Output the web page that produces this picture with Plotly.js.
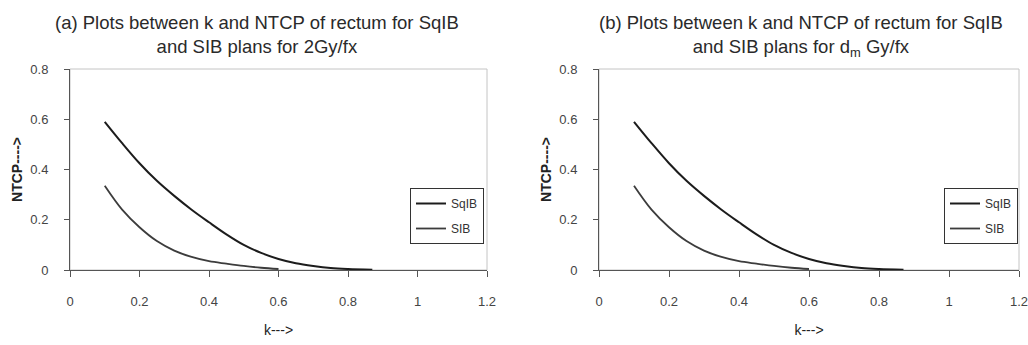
<!DOCTYPE html>
<html>
<head>
<meta charset="utf-8">
<script src="https://cdn.plot.ly/plotly-3.0.1.min.js"></script>
<style>html,body{margin:0;padding:0;background:#fff;}#chart{width:1028px;height:345px;}</style>
</head>
<body>
<div id="chart"></div>
<script>
// k values and NTCP values (both panels show the same curves)
const kSqIB = [0.1, 0.15, 0.2, 0.25, 0.3, 0.35, 0.4, 0.45, 0.5, 0.55, 0.6, 0.65, 0.7, 0.75, 0.8, 0.87];
const ntcpSqIB = [0.59, 0.505, 0.425, 0.355, 0.295, 0.24, 0.19, 0.142, 0.10, 0.068, 0.044, 0.027, 0.016, 0.008, 0.004, 0.001];
const kSIB = [0.1, 0.15, 0.2, 0.25, 0.3, 0.35, 0.4, 0.45, 0.5, 0.55, 0.6];
const ntcpSIB = [0.335, 0.24, 0.17, 0.115, 0.077, 0.052, 0.035, 0.025, 0.016, 0.009, 0.004];
const seriesNames = ['SqIB', 'SIB'];
const titles = [
  '(a) Plots between k and NTCP of rectum for SqIB<br>and SIB plans for 2Gy/fx',
  '(b) Plots between k and NTCP of rectum for SqIB<br>and SIB plans for d<sub>m</sub> Gy/fx'
];
const xTitle = 'k--->';
const yTitle = 'NTCP---->';

const W = 1028, H = 345;
const sans = '"Liberation Sans", Arial, sans-serif';
const lineColors = ['#1c1c1c', '#3c3c3c'];

const traces = [];
['', '2'].forEach((s, i) => {
  traces.push({x: kSqIB, y: ntcpSqIB, name: seriesNames[0], type: 'scatter', mode: 'lines',
    line: {color: lineColors[0], width: 2, shape: 'spline'}, xaxis: 'x' + s, yaxis: 'y' + s,
    legend: i === 0 ? 'legend' : 'legend2', legendgroup: 'a' + i});
  traces.push({x: kSIB, y: ntcpSIB, name: seriesNames[1], type: 'scatter', mode: 'lines',
    line: {color: lineColors[1], width: 1.8, shape: 'spline'}, xaxis: 'x' + s, yaxis: 'y' + s,
    legend: i === 0 ? 'legend' : 'legend2', legendgroup: 'b' + i});
});

function xax(domain, anchor) {
  return {domain: domain, anchor: anchor, range: [0, 1.2], dtick: 0.2, tick0: 0,
    showgrid: false, zeroline: false, showline: true, linecolor: '#555', linewidth: 1,
    ticks: 'outside', ticklen: 6, tickcolor: '#555', ticklabelstandoff: 13, ticklabeloverflow: 'allow',
    tickfont: {family: sans, size: 13, color: '#444'},
    title: {text: xTitle, font: {family: sans, size: 14, color: '#222'}, standoff: 17}};
}
function yax(domain, anchor) {
  return {domain: domain, anchor: anchor, range: [0, 0.8], dtick: 0.2, tick0: 0,
    showgrid: false, zeroline: false, showline: true, linecolor: '#555', linewidth: 1,
    ticks: 'outside', ticklen: 5, tickcolor: '#555', ticklabelstandoff: 13,
    tickfont: {family: sans, size: 13, color: '#444'},
    title: {text: '<b>' + yTitle + '</b>', font: {family: sans, size: 14, color: '#222'}, standoff: 4}};
}
const yDom = [1 - 270 / H, 1 - 69 / H];
function leg(xRight) {
  return {x: xRight / W, y: 1 - 188 / H, xanchor: 'right', yanchor: 'top', xref: 'paper', yref: 'paper',
    bgcolor: '#fff', bordercolor: '#333', borderwidth: 1, traceorder: 'grouped', tracegroupgap: 6,
    itemwidth: 30, font: {family: sans, size: 12, color: '#333'}};
}

const layout = {
  width: W, height: H, margin: {l: 0, r: 0, t: 0, b: 0},
  paper_bgcolor: '#fff', plot_bgcolor: '#fff', showlegend: true,
  xaxis: xax([70 / W, 487 / W], 'y'),
  yaxis: yax(yDom, 'x'),
  xaxis2: xax([599 / W, 1019 / W], 'y2'),
  yaxis2: yax(yDom, 'x2'),
  legend: leg(484),
  legend2: leg(1018),
  shapes: [
    {type: 'rect', xref: 'x domain', yref: 'y domain', x0: 0, x1: 1, y0: 0, y1: 1, line: {color: '#c4c4c4', width: 1}, layer: 'below'},
    {type: 'rect', xref: 'x2 domain', yref: 'y2 domain', x0: 0, x1: 1, y0: 0, y1: 1, line: {color: '#c4c4c4', width: 1}, layer: 'below'}
  ],
  annotations: [
    {text: titles[0], xref: 'paper', yref: 'paper', x: 257 / W, y: 1 - 10 / H, xanchor: 'center', yanchor: 'top',
      showarrow: false, align: 'center', font: {family: sans, size: 18.5, color: '#2a2a2a'}},
    {text: titles[1], xref: 'paper', yref: 'paper', x: 801 / W, y: 1 - 10 / H, xanchor: 'center', yanchor: 'top',
      showarrow: false, align: 'center', font: {family: sans, size: 18.5, color: '#2a2a2a'}}
  ]
};

Plotly.newPlot('chart', traces, layout, {displayModeBar: false, staticPlot: true});
</script>
</body>
</html>
